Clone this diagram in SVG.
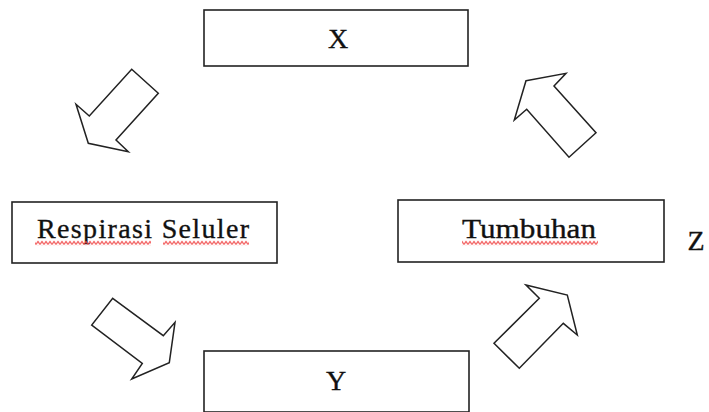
<svg xmlns="http://www.w3.org/2000/svg" width="709" height="412" viewBox="0 0 709 412">
<defs>
<pattern id="wave" x="0" y="240.5" width="4" height="5" patternUnits="userSpaceOnUse">
<path d="M0 4 L2 1 L4 4" fill="none" stroke="#f04848" stroke-width="1.2"/>
</pattern>
</defs>
<style>
.box{fill:#fff;stroke:#222;stroke-width:1.6}
.lbl{font-family:"Liberation Serif","Times New Roman",serif;font-size:28px;fill:#111;stroke:#111;stroke-width:0.35;text-anchor:middle}
.arr{fill:#fff;stroke:#222;stroke-width:1.5;stroke-linejoin:miter}
.wavy{fill:url(#wave);stroke:none}
</style>
<rect width="709" height="412" fill="#fff"/>
<g id="node-x">
<rect class="box" x="204" y="10" width="264" height="56"/>
<text class="lbl" x="338" y="48" font-size="30">X</text>
</g>
<g id="node-respirasi">
<rect class="box" x="12" y="202" width="265" height="61"/>
<text class="lbl" x="143" y="238" textLength="212" lengthAdjust="spacing">Respirasi  Seluler</text>
<rect class="wavy" x="35" y="240.5" width="116" height="5"/>
<rect class="wavy" x="163" y="240.5" width="86" height="5"/>
</g>
<g id="node-tumbuhan">
<rect class="box" x="398" y="200" width="266" height="62"/>
<text class="lbl" x="529" y="238" textLength="134" lengthAdjust="spacingAndGlyphs">Tumbuhan</text>
<rect class="wavy" x="462" y="240.5" width="136" height="5"/>
</g>
<g id="node-y">
<rect class="box" x="204" y="351" width="265" height="61"/>
<text class="lbl" x="336" y="390" font-size="30">Y</text>
</g>
<g id="node-z">
<text class="lbl" x="696" y="250" font-size="29">Z</text>
</g>
<g id="connectors">
<polygon class="arr" points="131.7,69.3 158.3,93.3 116,140 128.3,151.7 88.3,143.3 76,104.3 89.3,116"/>
<polygon class="arr" points="526,80.7 566,73.3 554,86 596,132.7 569,157.3 526.7,109.3 514.3,120"/>
<polygon class="arr" points="112.7,298.3 163.3,335.7 175,322.3 169.3,362.7 131.7,379 142.3,363.3 91.7,325"/>
<polygon class="arr" points="526,285 567.3,295 577.3,335 563.3,323.3 519.3,368.3 494,343.3 539.3,298.3"/>
</g>
</svg>
